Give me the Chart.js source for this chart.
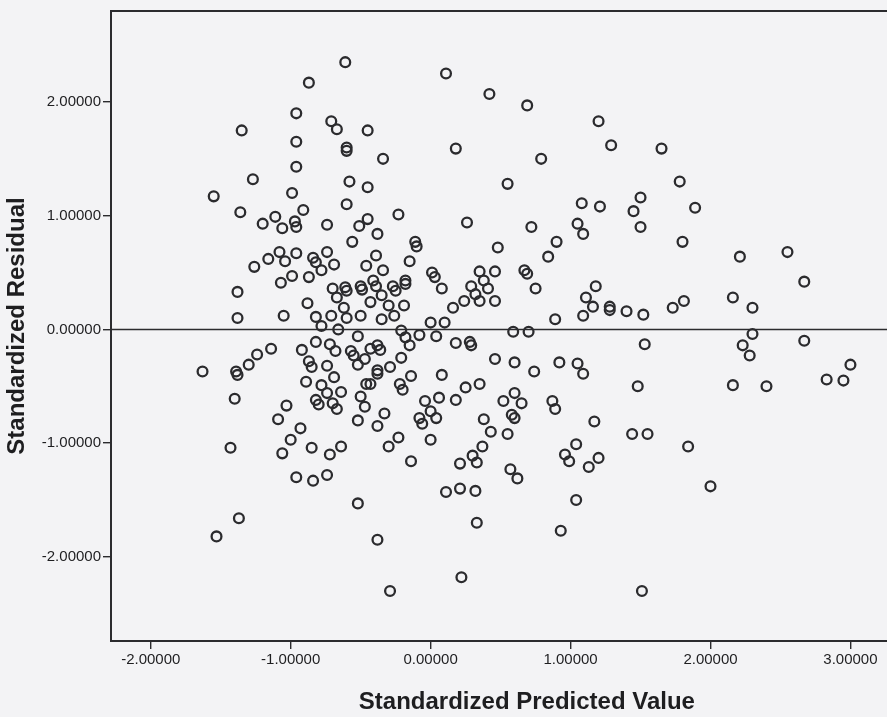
<!DOCTYPE html>
<html>
<head>
<meta charset="utf-8">
<title>Standardized Residual vs Standardized Predicted Value</title>
<script src="https://cdn.jsdelivr.net/npm/chart.js@4.4.1/dist/chart.umd.min.js"></script>
<style>
	html, body { margin: 0; padding: 0; overflow: hidden; background: #f3f3f5; }
	canvas { display: block; }
</style>
</head>
<body>
<canvas id="residualChart" width="950" height="717"></canvas>
<script>
// tick labels on both axes
const xTicks = [-2, -1, 0, 1, 2, 3];
const yTicks = [-2, -1, 0, 1, 2];

// standardized predicted value (x) for each case
const predicted = [
	-0.61, -0.87, -0.96, -1.35, -0.71, -0.67, -0.45, -0.96, -0.60, -0.60,
	-0.96, -1.27, -0.58, -0.45, -1.55, -0.99, -1.36, -0.60, -0.91, -1.20,
	-1.11, -1.06, -0.97, -0.96, -0.74, -0.51, -0.45, -0.56, -1.26, -1.16,
	-1.08, -1.04, -0.96, -0.84, -0.82, -0.78, -0.74, -0.69, -0.46, -1.07,
	-0.99, -0.87, -1.38, -0.88, -0.70, -0.67, -0.61, -0.60, -0.50, -0.49,
	-0.62, -1.38, -1.05, -0.82, -0.71, -0.60, -0.50,
	0.11, 0.42, 0.69, 1.20, 1.29, 0.18, -0.34, 0.79, 0.55, 1.08,
	1.21, 1.45, 1.50, 1.50, -0.23, 0.26, -0.38, 0.72, 1.05, 1.09,
	-0.11, -0.10, 0.48, 0.90, 0.84, -0.39, -0.15, -0.34, 0.01, 0.03,
	0.08, 0.35, 0.38, 0.41, 0.46, 0.67, 0.69, 0.75, 0.29, 0.32,
	0.35, 0.46, 0.24, 0.16, -0.41, -0.39, -0.35, -0.43, -0.27, -0.25,
	-0.18, -0.18, -0.30, -0.26, -0.35, -0.19, 0.00, 0.10, 0.89, 1.18,
	1.11, 1.16, 1.09, 1.28, 1.28, 1.40,
	1.65, 1.78, 1.89, 1.80, 2.21, 2.55, 2.67, 1.81, 1.73, 2.16, 2.30, 1.52,
	-0.78, -0.66, -0.52, -0.82, -0.72, -0.68, -0.92, -1.14, -1.24, -1.30,
	-1.39, -1.38, -1.63, -0.87, -0.85, -0.74, -0.69, -0.57, -0.55, -0.52,
	-0.47, -0.89, -0.78, -0.74, -0.64, -0.82, -0.80, -0.70, -0.67, -0.50,
	-0.47, -0.46, -1.40, -1.03, -1.09, -0.93, -1.00, -1.06, -1.43, -0.85,
	-0.72, -0.64, -0.96, -0.84, -0.74, -0.52, -0.52, -1.37, -1.53,
	-0.21, -0.18, -0.15, -0.08, 0.04, 0.18, 0.28, 0.29, 0.59, 0.70,
	-0.38, -0.36, -0.43, -0.29, -0.21, -0.38, -0.38, -0.43, -0.14, -0.22,
	-0.20, 0.08, 0.46, 0.60, 0.74, 0.92, 1.05, 1.09, 0.25, 0.35,
	0.06, 0.18, -0.04, 0.00, 0.04, -0.08, -0.06, -0.33, -0.38, 0.52,
	0.60, 0.65, 0.58, 0.60, 0.87, 0.89, 0.38, 0.43, 0.55, 1.17,
	0.00, -0.23, -0.30, 0.37, -0.14, 0.21, 0.30, 0.33, 1.04, 0.96,
	0.99, 1.13, 1.20, 0.57, 0.62, 0.11, 0.21, 0.32, 1.04, 0.33,
	0.93, -0.38, 0.22, -0.29,
	2.30, 2.23, 2.28, 2.67, 1.53, 3.00, 2.83, 2.95, 1.48, 2.16,
	2.40, 1.44, 1.55, 1.84, 2.00, 1.51
];

// standardized residual (y) for each case, same order as above
const residual = [
	2.35, 2.17, 1.90, 1.75, 1.83, 1.76, 1.75, 1.65, 1.60, 1.57,
	1.43, 1.32, 1.30, 1.25, 1.17, 1.20, 1.03, 1.10, 1.05, 0.93,
	0.99, 0.89, 0.95, 0.90, 0.92, 0.91, 0.97, 0.77, 0.55, 0.62,
	0.68, 0.60, 0.67, 0.63, 0.59, 0.52, 0.68, 0.57, 0.56, 0.41,
	0.47, 0.46, 0.33, 0.23, 0.36, 0.28, 0.37, 0.34, 0.38, 0.35,
	0.19, 0.10, 0.12, 0.11, 0.12, 0.10, 0.12,
	2.25, 2.07, 1.97, 1.83, 1.62, 1.59, 1.50, 1.50, 1.28, 1.11,
	1.08, 1.04, 1.16, 0.90, 1.01, 0.94, 0.84, 0.90, 0.93, 0.84,
	0.77, 0.73, 0.72, 0.77, 0.64, 0.65, 0.60, 0.52, 0.50, 0.46,
	0.36, 0.51, 0.43, 0.36, 0.51, 0.52, 0.49, 0.36, 0.38, 0.31,
	0.25, 0.25, 0.25, 0.19, 0.43, 0.38, 0.30, 0.24, 0.38, 0.34,
	0.43, 0.40, 0.21, 0.12, 0.09, 0.21, 0.06, 0.06, 0.09, 0.38,
	0.28, 0.20, 0.12, 0.20, 0.17, 0.16,
	1.59, 1.30, 1.07, 0.77, 0.64, 0.68, 0.42, 0.25, 0.19, 0.28, 0.19, 0.13,
	0.03, 0.00, -0.06, -0.11, -0.13, -0.19, -0.18, -0.17, -0.22, -0.31,
	-0.37, -0.40, -0.37, -0.28, -0.33, -0.32, -0.42, -0.19, -0.23, -0.31,
	-0.26, -0.46, -0.49, -0.56, -0.55, -0.62, -0.66, -0.65, -0.70, -0.59,
	-0.68, -0.48, -0.61, -0.67, -0.79, -0.87, -0.97, -1.09, -1.04, -1.04,
	-1.10, -1.03, -1.30, -1.33, -1.28, -0.80, -1.53, -1.66, -1.82,
	-0.01, -0.07, -0.14, -0.05, -0.06, -0.12, -0.11, -0.14, -0.02, -0.02,
	-0.14, -0.18, -0.17, -0.33, -0.25, -0.36, -0.39, -0.48, -0.41, -0.48,
	-0.53, -0.40, -0.26, -0.29, -0.37, -0.29, -0.30, -0.39, -0.51, -0.48,
	-0.60, -0.62, -0.63, -0.72, -0.78, -0.78, -0.83, -0.74, -0.85, -0.63,
	-0.56, -0.65, -0.75, -0.78, -0.63, -0.70, -0.79, -0.90, -0.92, -0.81,
	-0.97, -0.95, -1.03, -1.03, -1.16, -1.18, -1.11, -1.17, -1.01, -1.10,
	-1.16, -1.21, -1.13, -1.23, -1.31, -1.43, -1.40, -1.42, -1.50, -1.70,
	-1.77, -1.85, -2.18, -2.30,
	-0.04, -0.14, -0.23, -0.10, -0.13, -0.31, -0.44, -0.45, -0.50, -0.49,
	-0.50, -0.92, -0.92, -1.03, -1.38, -2.30
];

const inkColor = '#2b2b2e';
const pageColor = '#f3f3f5';

// paint the page colour behind everything
const backgroundPlugin = {
	id: 'background',
	beforeDraw(chart) {
		const ctx = chart.ctx;
		ctx.save();
		ctx.fillStyle = pageColor;
		ctx.fillRect(0, 0, chart.width, chart.height);
		ctx.restore();
	}
};

// reference line at residual 0 and the box round the plot
const framePlugin = {
	id: 'frame',
	beforeDatasetsDraw(chart) {
		const area = chart.chartArea;
		const y0 = chart.scales.y.getPixelForValue(0);
		const ctx = chart.ctx;
		ctx.save();
		ctx.strokeStyle = inkColor;
		ctx.lineWidth = 1.5;
		ctx.beginPath();
		ctx.moveTo(area.left, y0);
		ctx.lineTo(area.right, y0);
		ctx.stroke();
		ctx.restore();
	},
	afterDraw(chart) {
		const area = chart.chartArea;
		const ctx = chart.ctx;
		ctx.save();
		ctx.strokeStyle = inkColor;
		ctx.lineWidth = 2;
		ctx.strokeRect(area.left, area.top, area.right - area.left, area.bottom - area.top);
		ctx.restore();
	}
};

function buildPoints() {
	const points = [];
	for (let i = 0; i < predicted.length; i++) {
		points.push({ x: predicted[i], y: residual[i] });
	}
	return points;
}

const tickFont = { family: "'Liberation Sans', Arial, sans-serif", size: 15 };
const titleFont = { family: "'Liberation Sans', Arial, sans-serif", size: 24, weight: 'bold' };

const ctx = document.getElementById('residualChart').getContext('2d');
const residualChart = new Chart(ctx, {
	type: 'scatter',
	data: {
		datasets: [{
			label: 'Cases',
			data: buildPoints(),
			pointStyle: 'circle',
			pointRadius: 4.9,
			pointBorderWidth: 2.3,
			borderColor: inkColor,
			backgroundColor: 'rgba(0,0,0,0)'
		}]
	},
	options: {
		responsive: false,
		animation: false,
		devicePixelRatio: 1,
		layout: {
			padding: { top: 5, right: 1, left: 0, bottom: 0 }
		},
		plugins: {
			legend: { display: false },
			tooltip: { enabled: false }
		},
		scales: {
			x: {
				type: 'linear',
				min: -2.284,
				max: 3.66,
				afterBuildTicks: axis => { axis.ticks = xTicks.map(v => ({ value: v })); },
				afterFit: axis => { axis.height = 76; },
				border: { display: false },
				grid: { drawOnChartArea: false, drawTicks: true, tickLength: 8, color: inkColor, lineWidth: 1.4 },
				ticks: {
					autoSkip: false,
					maxRotation: 0,
					padding: 2,
					color: '#1e1e20',
					font: tickFont,
					callback: value => Number(value).toFixed(5)
				},
				title: {
					display: true,
					text: 'Standardized Predicted Value',
					color: '#1e1e20',
					font: titleFont,
					padding: { top: 0, bottom: 0 }
				}
			},
			y: {
				type: 'linear',
				min: -2.74,
				max: 2.80,
				afterBuildTicks: axis => { axis.ticks = yTicks.map(v => ({ value: v })); },
				afterFit: axis => { axis.width = 111; },
				border: { display: false },
				grid: { drawOnChartArea: false, drawTicks: true, tickLength: 8, color: inkColor, lineWidth: 1.4 },
				ticks: {
					autoSkip: false,
					padding: 2,
					color: '#1e1e20',
					font: tickFont,
					callback: value => Number(value).toFixed(5)
				},
				title: {
					display: true,
					text: 'Standardized Residual',
					color: '#1e1e20',
					font: titleFont,
					padding: { top: 3, bottom: 0 }
				}
			}
		}
	},
	plugins: [backgroundPlugin, framePlugin]
});
</script>
</body>
</html>
